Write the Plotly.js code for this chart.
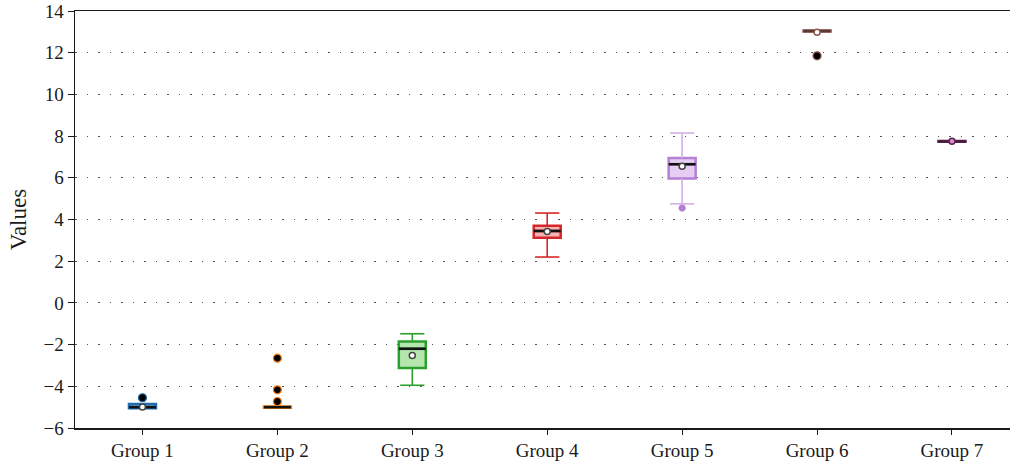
<!DOCTYPE html>
<html>
<head>
<meta charset="utf-8">
<script src="https://cdn.plot.ly/plotly-3.0.1.min.js"></script>
<style>
  html, body { margin: 0; padding: 0; background: #ffffff; }
  #chart { width: 1010px; height: 468px; }
</style>
</head>
<body>
<div id="chart"></div>
<script>
// Group labels and box statistics
const groups = ['Group 1', 'Group 2', 'Group 3', 'Group 4', 'Group 5', 'Group 6', 'Group 7'];
const q1Values = [-5.05, -5.03, -3.12, 3.12, 5.97, 13.02, 7.73];
const medianValues = [-5.0, -5.0, -2.2, 3.45, 6.65, 13.04, 7.75];
const q3Values = [-4.85, -4.97, -1.85, 3.70, 6.95, 13.06, 7.77];
const lowerWhiskers = [-5.05, -5.03, -3.95, 2.20, 4.75, 13.02, 7.73];
const upperWhiskers = [-4.85, -4.97, -1.48, 4.31, 8.15, 13.06, 7.77];
const meanValues = [-4.99, null, -2.52, 3.42, 6.55, 12.98, 7.75];

// Outlying observations: group index and value
const outlierGroups = [0, 1, 1, 1, 4, 5];
const outlierValues = [-4.55, -2.65, -4.17, -4.73, 4.55, 11.85];

// Styling per group
const edgeColors = ['#1f6cb0', '#ff7f0e', '#2ca02c', '#d62728', '#b57fd3', '#8c564b', '#5b2352'];
const fillColors = ['#6aaee0', '#ffa850', '#b5e6ae', '#f6b3b3', '#e6cdf3', '#a0695c', '#6e2e63'];
const whiskerColors = ['#1f6cb0', '#ff7f0e', '#2ca02c', '#d62728', '#d2b0e6', '#8c564b', '#5b2352'];
const meanFill = ['#ffffff', '#ffffff', '#ffffff', '#ffffff', '#ffffff', '#ffffff', '#d58bc8'];
const medianColors = ['#111111', '#111111', '#111111', '#111111', '#111111', '#5a3a33', '#4a1d43'];

const boxHalf = 0.1;
const capHalf = 0.09;
const traces = [];

groups.forEach((g, i) => {
  traces.push({
    type: 'box',
    name: g,
    x: [i],
    q1: [q1Values[i]],
    median: [medianValues[i]],
    q3: [q3Values[i]],
    lowerfence: [q1Values[i]],
    upperfence: [q3Values[i]],
    width: boxHalf * 2,
    whiskerwidth: 0,
    boxpoints: false,
    line: { color: edgeColors[i], width: 2.5 },
    fillcolor: fillColors[i],
    hoverinfo: 'skip',
    showlegend: false
  });
});

// Whiskers with caps
groups.forEach((g, i) => {
  const xs = [], ys = [];
  if (upperWhiskers[i] > q3Values[i]) {
    xs.push(i, i, null, i - capHalf, i + capHalf, null);
    ys.push(q3Values[i], upperWhiskers[i], null, upperWhiskers[i], upperWhiskers[i], null);
  }
  if (lowerWhiskers[i] < q1Values[i]) {
    xs.push(i, i, null, i - capHalf, i + capHalf, null);
    ys.push(q1Values[i], lowerWhiskers[i], null, lowerWhiskers[i], lowerWhiskers[i], null);
  }
  if (xs.length) {
    traces.push({
      type: 'scatter', mode: 'lines', x: xs, y: ys,
      line: { color: whiskerColors[i], width: 1.6 },
      hoverinfo: 'skip', showlegend: false, connectgaps: false
    });
  }
});

// Median lines
groups.forEach((g, i) => {
  traces.push({
    type: 'scatter', mode: 'lines',
    x: [i - boxHalf, i + boxHalf],
    y: [medianValues[i], medianValues[i]],
    line: { color: medianColors[i], width: 2.6 },
    hoverinfo: 'skip', showlegend: false
  });
});

// Outliers
traces.push({
  type: 'scatter', mode: 'markers',
  x: outlierGroups,
  y: outlierValues,
  marker: {
    size: outlierGroups.map(k => k === 4 ? 6 : 8),
    color: outlierGroups.map(k => k === 4 ? edgeColors[4] : '#000000'),
    opacity: 1,
    line: { color: outlierGroups.map(k => edgeColors[k]), width: 1.2 }
  },
  hoverinfo: 'y', showlegend: false
});

// Means
const meanX = [], meanY = [], meanF = [], meanEdge = [];
groups.forEach((g, i) => {
  if (meanValues[i] !== null) {
    meanX.push(i); meanY.push(meanValues[i]);
    meanF.push(meanFill[i]);
    meanEdge.push(i >= 5 ? edgeColors[i] : '#444444');
  }
});
traces.push({
  type: 'scatter', mode: 'markers', x: meanX, y: meanY,
  marker: { size: 6, color: meanF, opacity: 1, line: { color: meanEdge, width: 1.5 } },
  hoverinfo: 'y', showlegend: false
});

const layout = {
  width: 1010,
  height: 468,
  margin: { l: 75, r: 0, t: 11, b: 40 },
  paper_bgcolor: '#ffffff',
  plot_bgcolor: '#ffffff',
  font: { family: '"Liberation Serif", "DejaVu Serif", serif', size: 19, color: '#1a1a1a' },
  boxmode: 'overlay',
  xaxis: {
    range: [-0.5, 6.43],
    tickvals: groups.map((g, i) => i),
    ticktext: groups,
    ticks: 'outside',
    ticklen: 5,
    tickcolor: '#1a1a1a',
    showline: true,
    mirror: true,
    linecolor: '#1a1a1a',
    linewidth: 1.5,
    showgrid: false,
    zeroline: false,
    fixedrange: true
  },
  yaxis: {
    range: [-6, 14],
    dtick: 2,
    ticks: 'outside',
    ticklen: 6,
    tickcolor: '#1a1a1a',
    showline: true,
    linecolor: '#1a1a1a',
    linewidth: 1.5,
    showgrid: true,
    gridcolor: '#555555',
    gridwidth: 1,
    griddash: '1.5px,10px',
    zeroline: false,
    title: { text: 'Values', standoff: 10 },
    fixedrange: true
  }
};

Plotly.newPlot('chart', traces, layout, { displayModeBar: false, staticPlot: true });
</script>
</body>
</html>
